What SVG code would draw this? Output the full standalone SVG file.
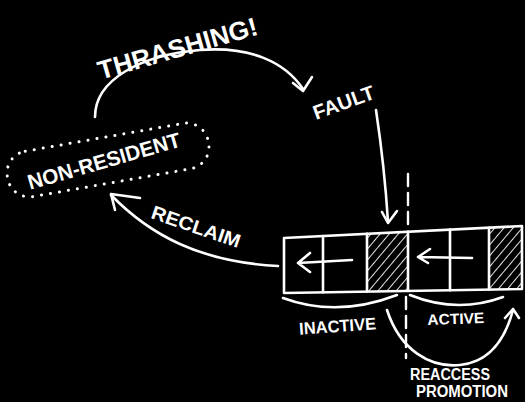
<svg xmlns="http://www.w3.org/2000/svg" width="525" height="402" viewBox="0 0 525 402">
<defs>
<style>
.s{fill:none;stroke:#fff;stroke-width:2.6;stroke-linecap:round;stroke-linejoin:round}
.t{fill:#fff;font-family:"Liberation Sans","DejaVu Sans",sans-serif;font-weight:bold}
.h{fill:url(#hatch)}
</style>
<pattern id="hatch" patternUnits="userSpaceOnUse" width="7" height="7" patternTransform="rotate(40)">
<line x1="0" y1="0" x2="0" y2="7" stroke="#fff" stroke-width="1.8"/>
</pattern>
</defs>
<rect width="525" height="402" fill="#000"/>

<g id="node-nonresident">
<rect x="6" y="137" width="204" height="46" rx="22" fill="none" stroke="#fff" stroke-width="3" stroke-linecap="round" stroke-dasharray="0.1 9" transform="rotate(-10 108 160)"/>
<text class="t" x="0" y="0" font-size="21" textLength="158" lengthAdjust="spacingAndGlyphs" text-anchor="middle" transform="translate(106,168) rotate(-16)">NON-RESIDENT</text>
</g>

<g id="node-lru">
<polygon class="h" points="367,233.8 408,231.7 408,290.9 367,291.6"/>
<polygon class="h" points="489,227.7 522,226 522,289 489,289.6"/>
<path class="s" d="M284,238 L522,226 L522,289 L284,293 Z"/>
<path class="s" d="M323,236 L323,292.3 M367,233.8 L367,291.6 M408,231.7 L408,290.9 M450,229.6 L450,290.2 M489,227.7 L489,289.6"/>
<path class="s" d="M352,260 L298,263 M310,253 L298,263 L310,272"/>
<path class="s" d="M472,258 L418,257 M430,249 L418,257 L428,263"/>
<path class="s" d="M283,298 Q337,318 397,295"/>
<path class="s" d="M410,295 Q457,314 503,297"/>
<text class="t" x="0" y="0" font-size="17" textLength="77" lengthAdjust="spacingAndGlyphs" text-anchor="middle" transform="translate(338,332) rotate(-4)">INACTIVE</text>
<text class="t" x="0" y="0" font-size="15" textLength="57" lengthAdjust="spacingAndGlyphs" text-anchor="middle" transform="translate(456,324) rotate(-2)">ACTIVE</text>
</g>

<g id="connectors">
<path class="s" d="M95,117 C95,80 140,55 200,50 C250,46 285,62 303,89"/>
<path class="s" d="M293,83 L303,91 L312,77"/>
<text class="t" x="0" y="0" font-size="26" textLength="165" lengthAdjust="spacingAndGlyphs" text-anchor="middle" transform="translate(180,57) rotate(-16)">THRASHING!</text>

<text class="t" x="0" y="0" font-size="20" textLength="64" lengthAdjust="spacingAndGlyphs" text-anchor="middle" transform="translate(346,109) rotate(-20)">FAULT</text>
<path class="s" d="M376,110 C382,150 386,190 388,222"/>
<path class="s" d="M382,212 L388,223 L397,211"/>

<path class="s" d="M278,266 C200,262 150,235 111,195"/>
<path class="s" d="M140,198 L111,194 L115,210"/>
<text class="t" x="0" y="0" font-size="19" textLength="93" lengthAdjust="spacingAndGlyphs" text-anchor="middle" transform="translate(194,233) rotate(19)">RECLAIM</text>

<path d="M408,174 L408,226 M406,297 L406,358" fill="none" stroke="#fff" stroke-width="2.4" stroke-linecap="round" stroke-dasharray="12 7"/>

<path class="s" d="M387,310 C400,350 430,368 460,365 C490,362 505,340 513,310"/>
<path class="s" d="M505,318 L513,309 L519,318"/>
<text class="t" x="450" y="380" font-size="16" textLength="80" lengthAdjust="spacingAndGlyphs" text-anchor="middle">REACCESS</text>
<text class="t" x="462" y="397" font-size="16" textLength="92" lengthAdjust="spacingAndGlyphs" text-anchor="middle">PROMOTION</text>
</g>
</svg>
